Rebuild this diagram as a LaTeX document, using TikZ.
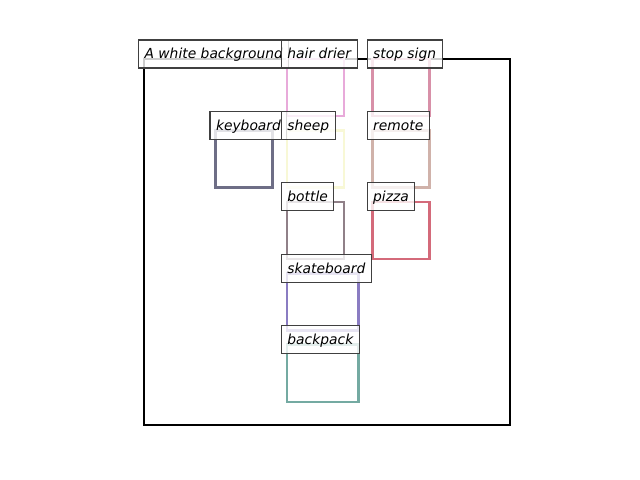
\documentclass[tikz,border=0pt]{standalone}
\usepackage{fontspec}
\setmainfont{DejaVu Sans}
\definecolor{hairdrier}{HTML}{E8AADA}
\definecolor{stopsign}{HTML}{D890A8}
\definecolor{keyboard}{HTML}{6E6E86}
\definecolor{sheep}{HTML}{F8F8D6}
\definecolor{remote}{HTML}{D0B2AA}
\definecolor{bottle}{HTML}{908088}
\definecolor{pizza}{HTML}{D46A7A}
\definecolor{skateboard}{HTML}{8A7CC2}
\definecolor{backpack}{HTML}{74AAA2}
\tikzset{
  bbox/.style={line width=1.9pt},
  tag/.style={draw=black!75, line width=0.8pt, fill=white, fill opacity=0.8, text opacity=1,
    font=\itshape, anchor=base west, xshift=-4.3pt, inner xsep=4.3pt, inner ysep=4.3pt,
    text height=9.4pt, text depth=2.2pt}
}
\begin{document}
\begin{tikzpicture}[x=0.01in, y=-0.01in]
\useasboundingbox (0,0) rectangle (640,480);
\begin{scope}[shift={(144,59)}, x=0.007148in, y=-0.007148in]
\draw[line width=1.6pt] (0,0) rectangle (512,512);
\draw[bbox, hairdrier] (200,0) rectangle (280,80);
\draw[bbox, stopsign] (320,0) rectangle (400,80);
\draw[bbox, keyboard] (100,100) rectangle (180,180);
\draw[bbox, sheep] (200,100) rectangle (280,180);
\draw[bbox, remote] (320,100) rectangle (400,180);
\draw[bbox, bottle] (200,200) rectangle (280,280);
\draw[bbox, pizza] (320,200) rectangle (400,280);
\draw[bbox, skateboard] (200,300) rectangle (300,380);
\draw[bbox, backpack] (200,400) rectangle (300,480);
\node[tag] (bg) at (0,0) {A white background};
\node[tag] (hairdrier) at (200,0) {hair drier};
\node[tag] (stopsign) at (320,0) {stop sign};
\node[tag] (keyboard) at (100,100) {keyboard};
\node[tag] (sheep) at (200,100) {sheep};
\node[tag] (remote) at (320,100) {remote};
\node[tag] (bottle) at (200,200) {bottle};
\node[tag] (pizza) at (320,200) {pizza};
\node[tag] (skateboard) at (200,300) {skateboard};
\node[tag] (backpack) at (200,400) {backpack};
\end{scope}
\end{tikzpicture}
\end{document}
